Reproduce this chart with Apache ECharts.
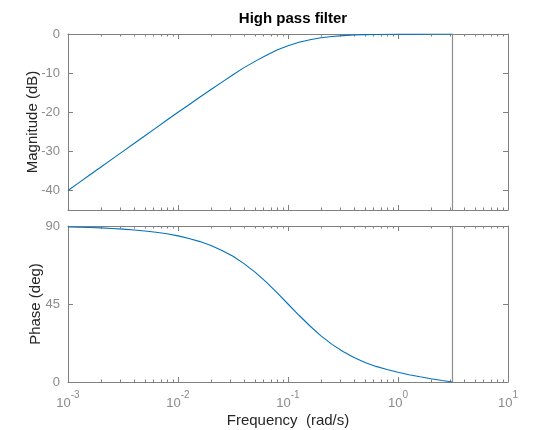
<!DOCTYPE html>
<html><head><meta charset="utf-8">
<script src="https://cdn.jsdelivr.net/npm/echarts@6/dist/echarts.min.js"></script>
<style>html,body{margin:0;padding:0;background:#fff}#c{width:540px;height:430px}</style>
</head><body><div id="c"></div>
<script>
const freq = [0.001,0.001259,0.001585,0.001995,0.002512,0.003162,0.003981,0.005012,0.00631,0.007943,0.01,0.01259,0.01585,0.01995,0.02512,0.03162,0.03981,0.05012,0.0631,0.07943,0.1,0.1259,0.1585,0.1995,0.2512,0.3162,0.3981,0.5012,0.631,0.7943,1.0,1.259,1.585,1.995,2.512,3.1416];
const magnitudeDb = [-40.0,-38.0,-36.0,-34.0,-32.0,-30.0,-28.0,-26.0,-24.0,-22.0,-20.0,-18.1,-16.1,-14.2,-12.3,-10.4,-8.6,-7.0,-5.5,-4.1,-3.0,-2.1,-1.45,-0.97,-0.64,-0.41,-0.27,-0.17,-0.11,-0.07,-0.04,-0.03,-0.02,0.0,0.0,0.0];
const phaseDeg = [89.4,89.3,89.1,88.9,88.6,88.2,87.7,87.1,86.4,85.5,84.3,82.8,81.0,78.7,75.9,72.5,68.3,63.4,57.8,51.5,45.0,38.5,32.3,26.6,21.7,17.6,14.1,11.3,9.0,7.2,5.6,4.2,3.0,1.9,0.9,0.0];
const magTicks = [-40,-30,-20,-10,0];
const phaseTicks = [0,45,90];
const nyquist = 3.1416;
const titleText = 'High pass filter';
const magName = 'Magnitude (dB)';
const phaseName = 'Phase (deg)';
const freqName = 'Frequency  (rad/s)';

const minorExp = [];
for (let d = -3; d < 1; d++) for (let k = 2; k <= 9; k++) minorExp.push(d + Math.log10(k));

const FONT = '"Liberation Sans", Arial, Helvetica, sans-serif';
const AX = '#808080';
const LBL = '#8a8a8a';
const NAME = '#262626';

const grids = [
  {left: 68, right: 32, top: 34, height: 176, outerBoundsMode: 'none'},
  {left: 68, right: 32, top: 226, height: 156, outerBoundsMode: 'none'}
];

const xAxes = [];
const yAxes = [];
for (let g = 0; g < 2; g++) {
  xAxes.push({
    type: 'log', gridIndex: g, position: 'bottom', min: 0.001, max: 10, logBase: 10,
    axisLine: {show: true, onZero: false, lineStyle: {color: AX, width: 1}},
    axisTick: {show: true, inside: true, length: 5, lineStyle: {color: AX}},
    splitLine: {show: false},
    axisLabel: {
      show: g === 1, margin: 8, fontFamily: FONT,
      formatter: v => '{b|10}{e|' + Math.round(Math.log10(v)) + '}',
      rich: {
        b: {fontSize: 13, color: LBL, fontFamily: FONT, lineHeight: 20, verticalAlign: 'bottom'},
        e: {fontSize: 10, color: LBL, fontFamily: FONT, lineHeight: 12, verticalAlign: 'top'}
      }
    },
    name: g === 1 ? freqName : '', nameLocation: 'middle', nameGap: 31, nameMoveOverlap: false,
    nameTextStyle: {color: NAME, fontSize: 15, fontFamily: FONT}
  });
  xAxes.push({
    type: 'log', gridIndex: g, position: 'top', min: 0.001, max: 10, logBase: 10,
    axisLine: {show: true, onZero: false, lineStyle: {color: AX, width: 1}},
    axisTick: {show: true, inside: true, length: 5, lineStyle: {color: AX}},
    axisLabel: {show: false}, splitLine: {show: false}
  });
  ['bottom', 'top'].forEach(pos => {
    xAxes.push({
      type: 'value', gridIndex: g, position: pos, min: -3, max: 1,
      axisLine: {show: false, onZero: false},
      axisTick: {show: true, inside: true, length: 2.5, customValues: minorExp, lineStyle: {color: AX}},
      axisLabel: {show: false}, splitLine: {show: false}
    });
  });
  const ticks = g === 0 ? magTicks : phaseTicks;
  const yr = g === 0 ? {min: -45, max: 0} : {min: 0, max: 90};
  yAxes.push(Object.assign({
    type: 'value', gridIndex: g, position: 'left',
    axisLine: {show: true, onZero: false, lineStyle: {color: AX, width: 1}},
    axisTick: {show: true, inside: true, length: 5, customValues: ticks, lineStyle: {color: AX}},
    axisLabel: {show: true, customValues: ticks, margin: 8, color: LBL, fontSize: 13, fontFamily: FONT},
    splitLine: {show: false},
    name: g === 0 ? magName : phaseName, nameLocation: 'middle', nameRotate: 90,
    nameGap: g === 0 ? 28 : 25, nameMoveOverlap: false,
    nameTextStyle: {color: NAME, fontSize: 15, fontFamily: FONT}
  }, yr));
  yAxes.push(Object.assign({
    type: 'value', gridIndex: g, position: 'right',
    axisLine: {show: true, onZero: false, lineStyle: {color: AX, width: 1}},
    axisTick: {show: true, inside: true, length: 5, customValues: ticks, lineStyle: {color: AX}},
    axisLabel: {show: false}, splitLine: {show: false}
  }, yr));
}

function mkSeries(vals, g) {
  return {
    type: 'line', xAxisIndex: g * 4, yAxisIndex: g * 2,
    data: freq.map((f, i) => [f, vals[i]]),
    showSymbol: false, smooth: false,
    lineStyle: {color: '#0072BD', width: 1.1},
    silent: true, animation: false,
    markLine: {
      silent: true, symbol: 'none', animation: false,
      label: {show: false},
      lineStyle: {color: '#8c8c8c', width: 1.2, type: 'solid'},
      data: [{xAxis: nyquist}]
    }
  };
}

const chart = echarts.init(document.getElementById('c'), null, {renderer: 'canvas'});
chart.setOption({
  backgroundColor: '#fff',
  animation: false,
  title: {text: titleText, left: 288, top: 6, textAlign: 'center',
    textStyle: {fontSize: 15, fontWeight: 'bold', color: '#000', fontFamily: FONT}},
  grid: grids,
  xAxis: xAxes,
  yAxis: yAxes,
  series: [mkSeries(magnitudeDb, 0), mkSeries(phaseDeg, 1)]
});
</script></body></html>
